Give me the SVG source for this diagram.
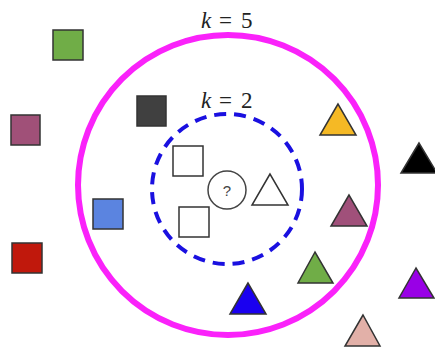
<svg xmlns="http://www.w3.org/2000/svg" width="435" height="347" viewBox="0 0 435 347">
<style>
.sq{stroke:#333;stroke-width:1.5}
.tri{stroke:#333;stroke-width:1.5;stroke-linejoin:miter}
.lbl{font-family:"Liberation Serif",serif;font-size:23px;fill:#222}
</style>
<rect width="435" height="347" fill="#fff"/>
<g id="connectors">
<circle id="k5" cx="228" cy="185" r="150" fill="none" stroke="#fa22fa" stroke-width="6"/>
<circle id="k2" cx="227" cy="189" r="75" fill="none" stroke="#1a10e0" stroke-width="4" stroke-dasharray="12 8"/>
</g>
<g id="label-k5"><text class="lbl" y="28"><tspan x="201" font-style="italic">k</tspan><tspan x="219">=</tspan><tspan x="241">5</tspan></text></g>
<g id="label-k2"><text class="lbl" y="108"><tspan x="201" font-style="italic">k</tspan><tspan x="219">=</tspan><tspan x="241">2</tspan></text></g>
<g id="sq-green"><rect class="sq" x="53" y="30" width="30" height="30" fill="#70ad47"/></g>
<g id="sq-dark"><rect class="sq" x="137" y="96" width="29" height="30" fill="#404040"/></g>
<g id="sq-purple"><rect class="sq" x="11" y="115" width="29" height="30" fill="#a05078"/></g>
<g id="sq-blue"><rect class="sq" x="93" y="199" width="30" height="30" fill="#5b84e0"/></g>
<g id="sq-red"><rect class="sq" x="12" y="243" width="30" height="30" fill="#c0180c"/></g>
<g id="sq-white1"><rect class="sq" x="173" y="146" width="30" height="30" fill="#fff" stroke="#555"/></g>
<g id="sq-white2"><rect class="sq" x="179" y="207" width="30" height="30" fill="#fff" stroke="#555"/></g>
<g id="query"><circle cx="227" cy="190" r="19" fill="#fff" stroke="#444" stroke-width="1.5"/><text x="227" y="196" text-anchor="middle" style="font-family:'Liberation Sans',sans-serif;font-size:15px;fill:#444">?</text></g>
<g id="tri-white"><polygon class="tri" points="270,174 252,205 288,205" fill="#fff" stroke="#555"/></g>
<g id="tri-yellow"><polygon class="tri" points="338,104 320,135 356,135" fill="#f5b925"/></g>
<g id="tri-black"><polygon class="tri" points="419,143 401,173 437,173" fill="#000"/></g>
<g id="tri-mauve"><polygon class="tri" points="349,195 331,226 367,226" fill="#a0507a"/></g>
<g id="tri-green"><polygon class="tri" points="315,252 298,283 333,283" fill="#70ad47"/></g>
<g id="tri-blue"><polygon class="tri" points="248,283 230,314 266,314" fill="#1a00f0"/></g>
<g id="tri-purple"><polygon class="tri" points="416,268 399,298 434,298" fill="#9900e6"/></g>
<g id="tri-pink"><polygon class="tri" points="363,315 345,346 380,346" fill="#e2b0a8"/></g>
</svg>
